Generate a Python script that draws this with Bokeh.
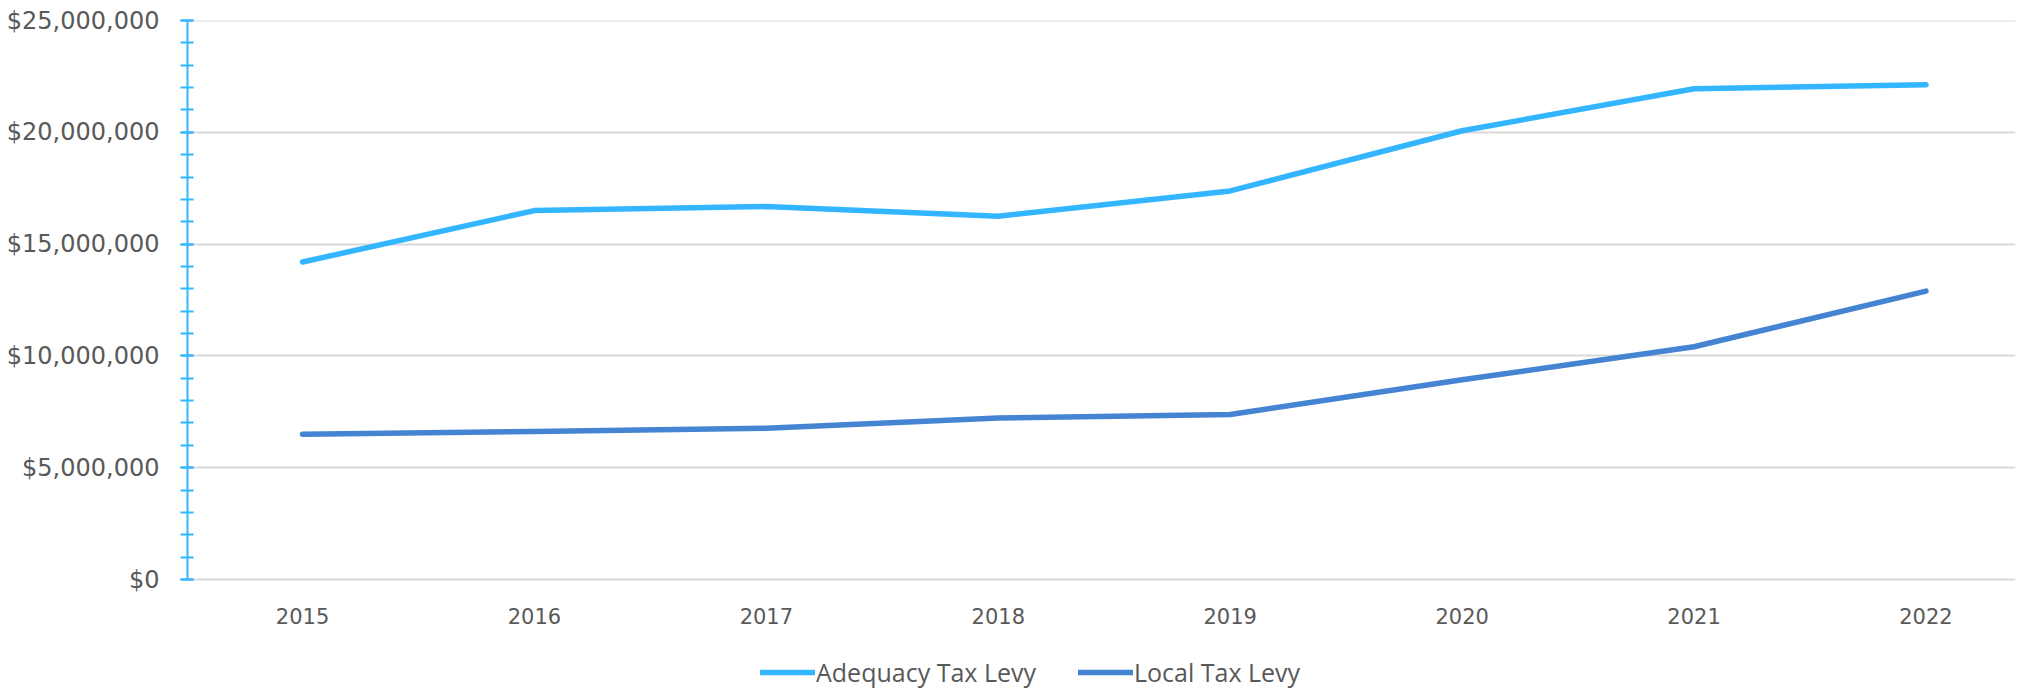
from bokeh.plotting import figure
from bokeh.models import (Range1d, SingleIntervalTicker, FixedTicker, NumeralTickFormatter,
                          Legend, LegendItem, ColumnDataSource)
from bokeh.embed import file_html
from bokeh.resources import INLINE

years = [2015, 2016, 2017, 2018, 2019, 2020, 2021, 2022]
adequacy_tax_levy = [14.2e6, 16.5e6, 16.68e6, 16.25e6, 17.38e6, 20.07e6, 21.95e6, 22.13e6]
local_tax_levy = [6.5e6, 6.62e6, 6.77e6, 7.22e6, 7.38e6, 8.93e6, 10.41e6, 12.9e6]
y_ticks = [0, 5e6, 10e6, 15e6, 20e6, 25e6]
series_names = ["Adequacy Tax Levy", "Local Tax Levy"]
series_colors = ["#33B6FF", "#4584D3"]

src = ColumnDataSource(dict(year=years, adequacy=adequacy_tax_levy, local=local_tax_levy))

# frame extends below the $0 line to hold the year labels and the legend
p = figure(frame_width=1828, frame_height=671, output_backend="svg", toolbar_location=None,
           x_range=Range1d(2014.504, 2022.386), y_range=Range1d(-5.009e6, 25.001e6),
           min_border_left=187, min_border_top=20, min_border_right=28, min_border_bottom=0)
p.outline_line_color = None
p.background_fill_color = "white"
p.border_fill_color = "white"

r1 = p.line("year", "adequacy", source=src, line_color=series_colors[0], line_width=5.5,
            line_cap="round", line_join="round")
r2 = p.line("year", "local", source=src, line_color=series_colors[1], line_width=5.5,
            line_cap="round", line_join="round")

# y axis
yax = p.yaxis[0]
yax.bounds = (0, 25e6)
yax.ticker = SingleIntervalTicker(interval=5e6, num_minor_ticks=5)
yax.formatter = NumeralTickFormatter(format="$0,0")
yax.axis_line_color = "#33B6FF"
yax.axis_line_width = 2
yax.major_tick_line_color = "#33B6FF"
yax.minor_tick_line_color = "#33B6FF"
yax.major_tick_line_width = 2
yax.minor_tick_line_width = 2
yax.major_tick_in = 6
yax.major_tick_out = 7
yax.minor_tick_in = 6
yax.minor_tick_out = 7
yax.major_label_standoff = 21
yax.major_label_text_font = "DejaVu Sans"
yax.major_label_text_font_size = "24px"
yax.major_label_text_color = "#595959"

# x axis, pinned to the $0 line
xax = p.xaxis[0]
xax.fixed_location = 0
xax.ticker = FixedTicker(ticks=years)
xax.major_label_overrides = {y: str(y) for y in years}
xax.axis_line_color = None
xax.major_tick_line_color = None
xax.minor_tick_line_color = None
xax.major_tick_out = 0
xax.major_tick_in = 0
xax.major_label_standoff = 28
xax.major_label_text_font = "DejaVu Sans"
xax.major_label_text_font_size = "21px"
xax.major_label_text_color = "#595959"

p.xgrid.grid_line_color = None
p.ygrid.ticker = FixedTicker(ticks=y_ticks)
p.ygrid.bounds = (0, 25e6)
p.ygrid.grid_line_color = "#D9D9D9"
p.ygrid.grid_line_width = 2

legend = Legend(items=[LegendItem(label=series_names[0], renderers=[r1]),
                       LegendItem(label=series_names[1], renderers=[r2])],
                orientation="horizontal", location=(573, 2),
                glyph_width=55, glyph_height=20, label_standoff=1, spacing=42,
                padding=0, margin=0,
                label_text_font="Open Sans", label_text_font_size="25px",
                label_text_color="#595959",
                border_line_color=None, background_fill_alpha=0)
p.add_layout(legend, "center")

open("out.html", "w").write(file_html(p, INLINE))
